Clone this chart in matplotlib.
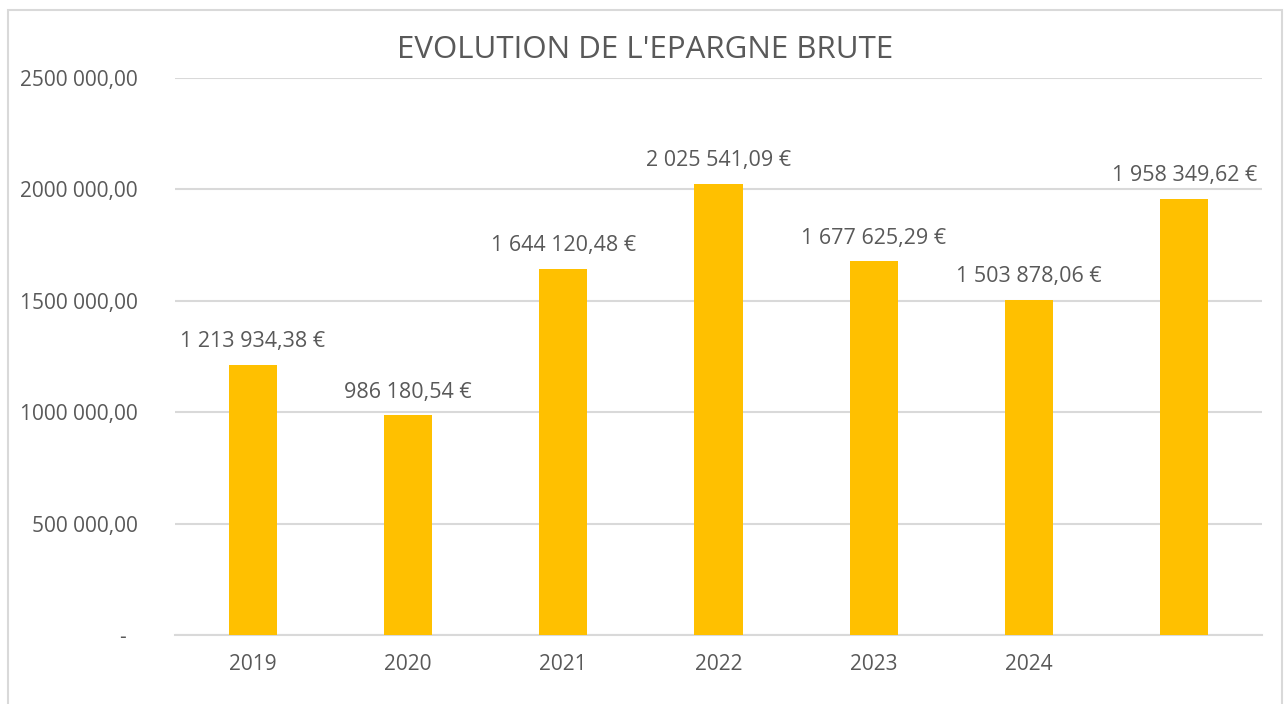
import matplotlib
matplotlib.use("Agg")
import matplotlib.pyplot as plt
from matplotlib.patches import Rectangle

categories = ["2019", "2020", "2021", "2022", "2023", "2024", ""]
values = [1213934.38, 986180.54, 1644120.48, 2025541.09, 1677625.29, 1503878.06, 1958349.62]
value_labels = ["1 213 934,38 €", "986 180,54 €", "1 644 120,48 €", "2 025 541,09 €",
                "1 677 625,29 €", "1 503 878,06 €", "1 958 349,62 €"]
yticks = [0, 500000, 1000000, 1500000, 2000000, 2500000]
ytick_labels = ["-  ", "500 000,00", "1000 000,00", "1500 000,00", "2000 000,00", "2500 000,00"]
title = "EVOLUTION DE L'EPARGNE BRUTE"

plt.rcParams['font.family'] = ['Open Sans', 'DejaVu Sans']
txt = "#595959"
grid = "#d9d9d9"

fig = plt.figure(figsize=(12.85, 7.04), dpi=100)
fig.patch.set_facecolor("white")
fig.patches.append(Rectangle((8/1285, -0.05), (1282-8)/1285, 1.05 - 10/704,
                             transform=fig.transFigure, fill=False,
                             edgecolor=grid, linewidth=1.5))

ax = fig.add_axes([175/1285, 1-635/704, (1262-175)/1285, (635-78)/704])
x = list(range(len(categories)))
ax.bar(x, values, width=0.31, color="#FFC000", zorder=3)
ax.set_xlim(-0.5, len(categories)-0.5)
ax.set_ylim(0, 2500000)
ax.set_yticks(yticks)
ax.set_yticklabels(ytick_labels)
ax.set_xticks(x)
ax.set_xticklabels(categories)
ax.tick_params(axis='both', length=0, colors=txt, labelsize=15)
ax.tick_params(axis='y', pad=27)
ax.tick_params(axis='x', pad=14)
for s in ["top", "right", "left"]:
    ax.spines[s].set_visible(False)
ax.spines["bottom"].set_color(grid)
ax.spines["bottom"].set_linewidth(1.5)
ax.yaxis.grid(True, color=grid, linewidth=1.5, zorder=0)
ax.set_axisbelow(True)

for xi, v, lab in zip(x, values, value_labels):
    ax.annotate(lab, (xi, v), xytext=(0, 9), textcoords="offset points",
                ha="center", va="bottom", color=txt, fontsize=15.5)

fig.text(645/1285, 1-50/704, title, ha="center", va="center", color=txt, fontsize=22.5)

fig.savefig("out.png", dpi=100)
